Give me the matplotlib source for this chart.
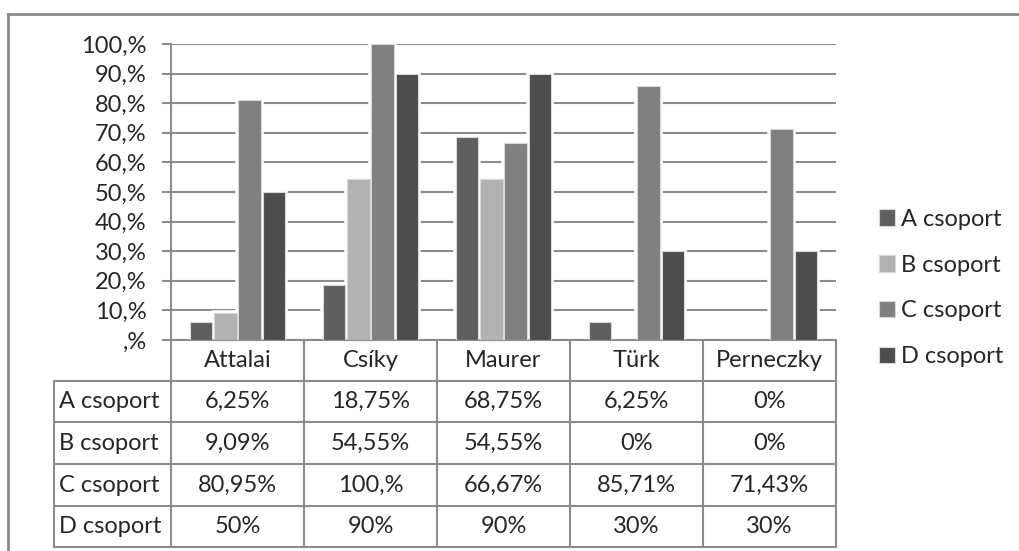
import matplotlib
matplotlib.use('Agg')
import matplotlib.pyplot as plt
from matplotlib.lines import Line2D
import numpy as np

# data
teachers = ['Attalai', 'Csíky', 'Maurer', 'Türk', 'Perneczky']
groups = ['A csoport', 'B csoport', 'C csoport', 'D csoport']
a_vals = [6.25, 18.75, 68.75, 6.25, 0]
b_vals = [9.09, 54.55, 54.55, 0, 0]
c_vals = [80.95, 100, 66.67, 85.71, 71.43]
d_vals = [50, 90, 90, 30, 30]
table_text = [
    ['6,25%', '18,75%', '68,75%', '6,25%', '0%'],
    ['9,09%', '54,55%', '54,55%', '0%', '0%'],
    ['80,95%', '100,%', '66,67%', '85,71%', '71,43%'],
    ['50%', '90%', '90%', '30%', '30%'],
]
yticks = [0, 10, 20, 30, 40, 50, 60, 70, 80, 90, 100]
ytick_labels = [',%', '10,%', '20,%', '30,%', '40,%', '50,%', '60,%', '70,%', '80,%', '90,%', '100,%']

colors = ['#5f5f5f', '#b2b2b2', '#808080', '#4d4d4d']
gridc = '#8c8c8c'
txtc = '#262626'
plt.rcParams['font.family'] = ['Lato', 'DejaVu Sans']
fs = 17

W, H = 1019, 551
fig = plt.figure(figsize=(W / 100, H / 100), dpi=100)

# pixel helpers for layout
def fx(px): return px / W
def fy(py): return 1 - py / H

x0, x1, ytop, ybot = 171, 836, 44, 340
ax = fig.add_axes([fx(x0), fy(ybot), fx(x1 - x0), fy(ytop) - fy(ybot)])

series = [a_vals, b_vals, c_vals, d_vals]
x = np.arange(len(teachers))
step = 0.183
bw = 0.17
handles = []
for i, vals in enumerate(series):
    pos = x + (i - 1.5) * step
    # white halo that cuts the gridlines around the bars
    ax.bar(pos, vals, width=bw, color='white', edgecolor='white', linewidth=4, zorder=2)
    b = ax.bar(pos, vals, width=bw, color=colors[i], edgecolor='#d8d8d8', linewidth=0.8,
               zorder=3, label=groups[i])
    handles.append(b)

ax.set_xlim(-0.5, len(teachers) - 0.5)
ax.set_ylim(0, 100)
ax.set_yticks(yticks)
ax.set_yticklabels(ytick_labels, fontsize=fs, color=txtc)
ax.set_xticks([])
ax.yaxis.grid(True, color=gridc, linewidth=1.5, zorder=0)
ax.set_axisbelow(True)
ax.tick_params(axis='y', length=6.5, width=1.5, color=gridc, pad=11)
for s in ['top', 'right']:
    ax.spines[s].set_visible(False)
ax.spines['left'].set_color(gridc)
ax.spines['left'].set_linewidth(1.5)
ax.spines['bottom'].set_color(gridc)
ax.spines['bottom'].set_linewidth(1.5)

# data table under the plot (pixel layout)
tab = fig.add_axes([0, 0, 1, 1], zorder=-1)
tab.set_xlim(0, W)
tab.set_ylim(H, 0)
tab.axis('off')

col_edges = np.linspace(x0, x1, len(teachers) + 1)
row_edges = [340, 381, 422, 464, 506, 547]
lab_left = 54
lw = 1.5
for cx in col_edges:
    tab.add_line(Line2D([cx, cx], [row_edges[0], row_edges[-1]], color=gridc, lw=lw))
tab.add_line(Line2D([lab_left, lab_left], [row_edges[1], row_edges[-1]], color=gridc, lw=lw))
for ry in row_edges[1:]:
    tab.add_line(Line2D([lab_left, x1], [ry, ry], color=gridc, lw=lw))

for j, name in enumerate(teachers):
    cx = (col_edges[j] + col_edges[j + 1]) / 2
    tab.text(cx, (row_edges[0] + row_edges[1]) / 2, name, ha='center', va='center',
             fontsize=fs, color=txtc)
for i, g in enumerate(groups):
    cy = (row_edges[i + 1] + row_edges[i + 2]) / 2
    tab.text(lab_left + 5, cy, g, ha='left', va='center', fontsize=fs, color=txtc)
    for j in range(len(teachers)):
        cx = (col_edges[j] + col_edges[j + 1]) / 2
        tab.text(cx, cy, table_text[i][j], ha='center', va='center', fontsize=fs, color=txtc)

# outer chart border (only top and left are in view)
tab.add_line(Line2D([8, W], [14, 14], color='#8a8a8a', lw=2))
tab.add_line(Line2D([8, 8], [14, H], color='#8a8a8a', lw=2))

fig.legend(handles=handles, labels=groups, loc='center left',
           bbox_to_anchor=(fx(867), fy(288)), frameon=False, fontsize=fs,
           handlelength=0.7, handleheight=0.7, handletextpad=0.25,
           labelspacing=1.05, borderpad=0, labelcolor=txtc)

fig.savefig('out.png', dpi=100)
